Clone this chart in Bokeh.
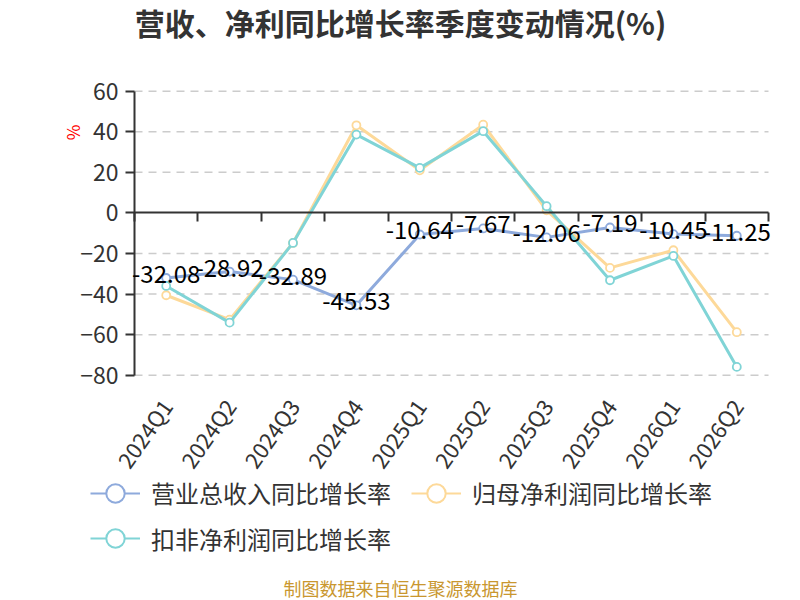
import math
import numpy as np
from bokeh.plotting import figure
from bokeh.models import (Range1d, FixedTicker, Label, LabelSet, LinearAxis,
                          ColumnDataSource, Legend, LegendItem)
from bokeh.core.properties import value
from bokeh.embed import file_html
from bokeh.resources import INLINE

# ---- data ----
categories = ["2024Q1", "2024Q2", "2024Q3", "2024Q4", "2025Q1",
              "2025Q2", "2025Q3", "2025Q4", "2026Q1", "2026Q2"]
revenue_yoy = [-32.08, -28.92, -32.89, -45.53, -10.64, -7.67, -12.06, -7.19, -10.45, -11.25]
parent_np_yoy = [-40.6, -52.6, -14.8, 43.2, 21.0, 43.5, 1.3, -27.1, -18.4, -58.8]
deducted_np_yoy = [-36.0, -54.1, -14.8, 38.6, 22.2, 40.3, 3.3, -33.2, -21.2, -75.9]
y_ticks = [-80, -60, -40, -20, 0, 20, 40, 60]
series_names = ["营业总收入同比增长率", "归母净利润同比增长率", "扣非净利润同比增长率"]
title_text = "营收、净利同比增长率季度变动情况(%)"
source_text = "制图数据来自恒生聚源数据库"
unit_text = "%"

FONT = "Noto Sans CJK SC"
colors = ["#8eaadc", "#fdd999", "#80d4d6"]

# ---- layout geometry (pixels) ----
W, H = 800, 600
PLOT_L, PLOT_R, PLOT_T, PLOT_B = 134, 768, 90.7, 374.7
n = len(categories)
cw = (PLOT_R - PLOT_L) / n
ppu = (PLOT_B - PLOT_T) / (y_ticks[-1] - y_ticks[0])
x_lo, x_hi = -0.5, n - 0.5
x_start = x_lo - PLOT_L / cw
x_end = x_hi + (W - PLOT_R) / cw
y_end = y_ticks[-1] + PLOT_T / ppu
y_start = y_ticks[0] - (H - PLOT_B) / ppu

xs = list(range(n))

p = figure(width=W, height=H,
           x_range=Range1d(x_start, x_end), y_range=Range1d(y_start, y_end),
           x_axis_location=None, y_axis_location=None,
           output_backend="svg", toolbar_location=None,
           min_border_left=0, min_border_right=0, min_border_top=0, min_border_bottom=0)
p.title.visible = False
p.outline_line_color = None
p.background_fill_color = "white"
p.border_fill_color = "white"
p.xgrid.visible = False
p.ygrid.visible = False

# dashed horizontal grid lines (within plot area)
grid_ticks = [t for t in y_ticks if t != 0]
p.segment(x0=[x_lo] * len(grid_ticks), x1=[x_hi] * len(grid_ticks),
          y0=grid_ticks, y1=grid_ticks,
          line_color="#cccccc", line_width=1.5, line_dash="8 6")

# y axis
yax = LinearAxis(fixed_location=x_lo, bounds=(y_ticks[0], y_ticks[-1]),
                 ticker=FixedTicker(ticks=y_ticks))
yax.axis_line_color = "#333333"
yax.axis_line_width = 2
yax.major_tick_line_color = "#333333"
yax.major_tick_line_width = 2
yax.major_tick_out = 9
yax.major_tick_in = 0
yax.minor_tick_line_color = None
yax.major_label_text_font = FONT
yax.major_label_text_font_size = "23px"
yax.major_label_text_color = "#333333"
yax.major_label_standoff = 7
p.add_layout(yax, "left")

# zero axis with ticks at category boundaries
bounds_ticks = [i - 0.5 for i in range(n + 1)]
zax = LinearAxis(fixed_location=0, bounds=(x_lo, x_hi),
                 ticker=FixedTicker(ticks=bounds_ticks))
zax.axis_line_color = "#333333"
zax.axis_line_width = 2
zax.major_tick_line_color = "#333333"
zax.major_tick_line_width = 2
zax.major_tick_out = 9
zax.major_tick_in = 0
zax.minor_tick_line_color = None
zax.major_label_text_alpha = 0
zax.major_label_text_font_size = "1px"
p.add_layout(zax, "below")

# category labels axis at bottom of plot area
xax = LinearAxis(fixed_location=y_ticks[0], bounds=(x_lo, x_hi),
                 ticker=FixedTicker(ticks=xs),
                 major_label_overrides={i: c for i, c in zip(xs, categories)})
xax.axis_line_color = None
xax.major_tick_line_color = None
xax.minor_tick_line_color = None
xax.major_label_orientation = math.radians(55)
xax.major_label_text_font = FONT
xax.major_label_text_font_size = "22px"
xax.major_label_text_color = "#333333"
xax.major_label_standoff = 20
p.add_layout(xax, "below")

# series
all_series = [revenue_yoy, parent_np_yoy, deducted_np_yoy]
legend_items = []
for name, vals, c in zip(series_names, all_series, colors):
    src = ColumnDataSource(dict(x=xs, y=vals))
    p.line("x", "y", source=src, line_color=c, line_width=3)
    p.scatter("x", "y", source=src, marker="circle", size=8,
              fill_color="white", line_color=c, line_width=1.8)
    # legend proxies (not visible in the plot: NaN placeholder)
    proxy = ColumnDataSource(dict(x=np.array([np.nan]), y=np.array([np.nan])))
    lr = p.line("x", "y", source=proxy, line_color=c, line_width=2)
    sr = p.scatter("x", "y", source=proxy, marker="circle", size=18,
                   fill_color="white", line_color=c, line_width=2)
    legend_items.append(LegendItem(label=name, renderers=[lr, sr]))

# value labels for revenue
lab_src = ColumnDataSource(dict(x=xs, y=revenue_yoy,
                                t=[f"{v:.2f}" for v in revenue_yoy]))
p.add_layout(LabelSet(x="x", y="y", text="t", source=lab_src,
                      text_align="center", text_baseline="middle", y_offset=4,
                      text_font=value(FONT), text_font_size="24px",
                      text_color="#000000"))

def make_legend(items, loc):
    return Legend(items=items, location=loc, orientation="horizontal",
                  glyph_width=50, glyph_height=46, label_standoff=11, spacing=20,
                  padding=0, margin=0, border_line_color=None,
                  background_fill_alpha=0,
                  label_text_font=FONT, label_text_font_size="24px",
                  label_text_color="#333333")

p.add_layout(make_legend(legend_items[:2], (90, H - 515.7)))
p.add_layout(make_legend(legend_items[2:], (90, H - 561.3)))

# title, unit, source
p.add_layout(Label(x=W / 2, y=H - 21, x_units="screen", y_units="screen",
                   text=title_text, text_align="center", text_baseline="middle",
                   text_font=FONT, text_font_size="30px", text_font_style="bold",
                   text_color="#333333"))
p.add_layout(Label(x=72, y=H - 132, x_units="screen", y_units="screen",
                   text=unit_text, angle=math.pi / 2,
                   text_align="center", text_baseline="middle",
                   text_font=FONT, text_font_size="17px", text_color="#ff0000"))
p.add_layout(Label(x=W / 2, y=H - 587, x_units="screen", y_units="screen",
                   text=source_text, text_align="center", text_baseline="middle",
                   text_font=FONT, text_font_size="18px", text_color="#c9972f"))

open("out.html", "w").write(file_html(p, INLINE))
